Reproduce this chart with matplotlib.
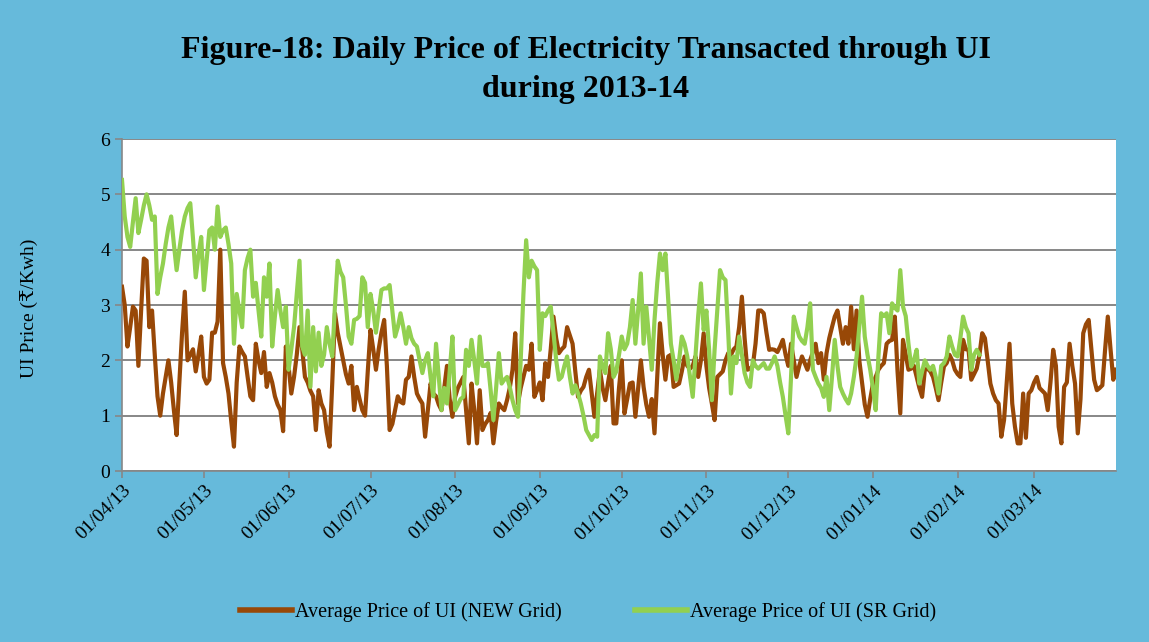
import numpy as np
import pandas as pd
import matplotlib
matplotlib.use("Agg")
import matplotlib.pyplot as plt
import matplotlib.dates as mdates

# Daily data (Rs/kWh), 01/04/2013 onwards
new_grid = [
    3.33, 3.0, 2.25, 2.6, 2.97, 2.9, 1.9, 2.9, 3.84, 3.8,
    2.6, 2.9, 2.1, 1.35, 1.0, 1.4, 1.7, 2.0, 1.6, 1.1,
    0.65, 1.6, 2.5, 3.24, 2.0, 2.1, 2.2, 1.8, 2.1, 2.43,
    1.7, 1.58, 1.65, 2.5, 2.5, 2.7, 4.0, 1.95, 1.7, 1.4,
    0.9, 0.44, 1.6, 2.25, 2.15, 2.07, 1.7, 1.35, 1.28, 2.3,
    2.0, 1.77, 2.15, 1.52, 1.77, 1.6, 1.35, 1.2, 1.1, 0.72,
    2.25, 1.9, 1.4, 1.7, 2.1, 2.6, 2.2, 1.7, 1.6, 1.45,
    1.35, 0.74, 1.46, 1.22, 1.1, 0.7, 0.44, 1.6, 2.85, 2.5,
    2.25, 2.0, 1.75, 1.58, 1.9, 1.1, 1.52, 1.3, 1.1, 1.0,
    1.8, 2.55, 2.2, 1.83, 2.2, 2.5, 2.73, 1.9, 0.74, 0.85,
    1.1, 1.35, 1.25, 1.22, 1.65, 1.7, 2.07, 1.7, 1.4, 1.3,
    1.22, 0.62, 1.1, 1.58, 1.4, 1.35, 1.2, 1.1, 1.5, 1.9,
    1.3, 0.98, 1.34, 1.5, 1.6, 1.7, 1.1, 0.5, 1.58, 1.1,
    0.5, 1.46, 0.74, 0.85, 0.92, 1.05, 0.5, 0.9, 1.22, 1.15,
    1.1, 1.28, 1.5, 1.83, 2.49, 1.22, 1.5, 1.7, 1.9, 1.83,
    2.3, 1.34, 1.46, 1.6, 1.28, 1.95, 1.7, 2.2, 2.79, 2.4,
    2.13, 2.2, 2.25, 2.6, 2.45, 2.3, 1.8, 1.34, 1.45, 1.52,
    1.7, 1.83, 1.4, 0.98, 1.4, 1.83, 1.5, 1.28, 1.6, 1.9,
    0.86, 0.86, 1.5, 2.0, 1.04, 1.3, 1.58, 1.6, 0.98, 1.5,
    2.0, 1.52, 1.2, 0.98, 1.3, 0.68, 1.7, 2.67, 2.1, 1.65,
    2.07, 2.1, 1.52, 1.55, 1.58, 1.8, 2.07, 1.9, 1.85, 1.9,
    2.07, 1.7, 2.0, 2.49, 1.9, 1.5, 1.22, 0.92, 1.7, 1.75,
    1.8, 2.0, 2.13, 2.1, 2.2, 2.25, 2.6, 3.15, 2.4, 1.83,
    1.85, 1.9, 2.3, 2.9, 2.9, 2.85, 2.5, 2.19, 2.2, 2.19,
    2.15, 2.25, 2.37, 2.1, 1.9, 2.3, 2.0, 1.7, 1.9, 2.07,
    1.95, 1.83, 2.0, 2.15, 2.3, 1.95, 2.13, 1.65, 2.13, 2.4,
    2.6, 2.79, 2.9, 2.6, 2.3, 2.6, 2.3, 2.97, 2.2, 2.9,
    2.0, 1.6, 1.2, 0.98, 1.3, 1.58, 1.7, 1.83, 1.9, 1.95,
    2.3, 2.35, 2.37, 2.79, 1.8, 1.04, 2.37, 2.1, 1.83, 1.85,
    1.9, 1.7, 1.5, 1.34, 1.83, 1.85, 1.8, 1.7, 1.5, 1.28,
    1.6, 1.89, 1.95, 2.1, 2.0, 1.83, 1.75, 1.7, 2.37, 2.2,
    2.19, 1.65, 1.75, 1.85, 2.1, 2.49, 2.4, 2.0, 1.58, 1.4,
    1.28, 1.22, 0.62, 0.92, 1.6, 2.3, 1.22, 0.8, 0.5, 0.5,
    1.4, 0.6, 1.4, 1.46, 1.6, 1.7, 1.5, 1.45, 1.4, 1.1,
    1.6, 2.19, 1.9, 0.8, 0.5, 1.52, 1.6, 2.3, 1.9, 1.58,
    0.68, 1.3, 2.49, 2.65, 2.73, 2.2, 1.65, 1.46, 1.5, 1.55,
    2.19, 2.79, 2.2, 1.65, 1.83,
]

sr_grid = [
    5.26, 4.6, 4.23, 4.05, 4.5, 4.93, 4.3, 4.54, 4.8, 5.0,
    4.8, 4.54, 4.6, 3.2, 3.5, 3.75, 4.1, 4.4, 4.6, 4.1,
    3.63, 4.0, 4.35, 4.6, 4.75, 4.84, 4.2, 3.5, 3.9, 4.23,
    3.27, 3.8, 4.35, 4.4, 4.0, 4.78, 4.23, 4.35, 4.4, 4.1,
    3.75, 2.3, 3.2, 2.9, 2.6, 3.63, 3.85, 4.0, 3.15, 3.4,
    2.9, 2.43, 3.5, 3.15, 3.75, 2.25, 2.8, 3.27, 2.9, 2.6,
    2.97, 1.83, 2.2, 2.6, 3.2, 3.8, 2.25, 2.1, 2.9, 1.52,
    2.6, 1.8, 2.5, 1.9, 2.1, 2.6, 2.3, 2.07, 3.0, 3.8,
    3.6, 3.5, 3.0, 2.43, 2.3, 2.73, 2.75, 2.8, 3.5, 3.4,
    2.6, 3.2, 2.9, 2.5, 2.9, 3.27, 3.3, 3.3, 3.36, 2.9,
    2.43, 2.6, 2.85, 2.6, 2.3, 2.6, 2.4, 2.3, 2.25, 2.0,
    1.77, 2.0, 2.13, 1.7, 1.35, 2.3, 1.7, 1.1, 1.5, 1.22,
    1.8, 2.43, 1.1, 1.2, 1.3, 1.34, 2.19, 1.9, 2.37, 2.0,
    1.58, 2.43, 1.9, 1.9, 1.95, 1.46, 0.92, 1.5, 2.13, 1.58,
    1.65, 1.7, 1.52, 1.28, 1.1, 0.98, 2.0, 3.2, 4.17, 3.5,
    3.8, 3.7, 3.63, 2.19, 2.85, 2.8, 2.9, 2.97, 2.5, 2.0,
    1.65, 1.7, 1.9, 2.07, 1.7, 1.4, 1.55, 1.4, 1.22, 1.0,
    0.74, 0.65, 0.56, 0.65, 0.62, 2.07, 1.9, 1.77, 2.49, 2.2,
    1.7, 1.8, 2.1, 2.43, 2.2, 2.3, 2.6, 3.09, 2.3, 2.9,
    3.57, 2.3, 2.97, 2.4, 1.83, 2.73, 3.4, 3.93, 3.63, 3.93,
    3.1, 2.3, 2.0, 1.65, 2.0, 2.43, 2.3, 2.07, 1.7, 1.34,
    2.07, 2.8, 3.39, 2.55, 2.9, 2.19, 1.28, 2.19, 2.9, 3.63,
    3.5, 3.45, 2.5, 1.4, 2.07, 1.95, 2.43, 2.1, 1.77, 1.6,
    1.52, 2.0, 1.9, 1.85, 1.9, 1.95, 1.85, 1.85, 1.95, 2.07,
    1.9, 1.6, 1.34, 1.0, 0.68, 1.7, 2.79, 2.6, 2.43, 2.35,
    2.3, 2.6, 3.03, 1.83, 1.7, 1.58, 1.5, 1.34, 1.7, 1.1,
    1.7, 2.37, 1.9, 1.52, 1.4, 1.3, 1.22, 1.4, 1.7, 2.07,
    2.6, 3.15, 2.43, 2.1, 1.83, 1.5, 1.1, 2.07, 2.85, 2.8,
    2.85, 2.49, 3.03, 2.95, 2.9, 3.63, 2.97, 2.8, 2.3, 1.89,
    2.0, 2.19, 1.58, 1.8, 2.0, 1.9, 1.83, 1.9, 1.7, 1.4,
    1.9, 1.95, 2.07, 2.43, 2.25, 2.1, 2.07, 2.4, 2.79, 2.6,
    2.49, 1.83, 2.1, 2.19, 2.1,
]

start_date = "2013-04-01"
tick_labels = ["01/04/13", "01/05/13", "01/06/13", "01/07/13", "01/08/13",
               "01/09/13", "01/10/13", "01/11/13", "01/12/13", "01/01/14",
               "01/02/14", "01/03/14"]
series_names = ["Average Price of UI (NEW Grid)", "Average Price of UI (SR Grid)"]

dates_new = pd.date_range(start_date, periods=len(new_grid), freq="D")
dates_sr = pd.date_range(start_date, periods=len(sr_grid), freq="D")
tick_dates = pd.to_datetime(tick_labels, format="%d/%m/%y")

BG = "#66BADB"
SERIF = ["Liberation Serif", "DejaVu Serif", "DejaVu Sans"]

fig = plt.figure(figsize=(11.49, 6.42), dpi=100, facecolor=BG)
ax = fig.add_axes([122/1149, 1-471/642, (1116-122)/1149, (471-139)/642])
ax.set_facecolor("white")

ax.plot(dates_new, new_grid, color="#984807", lw=3.0, solid_joinstyle="round",
        label=series_names[0], zorder=3)
ax.plot(dates_sr, sr_grid, color="#92D050", lw=3.0, solid_joinstyle="round",
        label=series_names[1], zorder=3)

ax.set_xlim(pd.Timestamp("2013-04-01"), pd.Timestamp("2014-03-31"))
ax.set_ylim(0, 6)
ax.set_yticks(range(0, 7))
ax.set_xticks(tick_dates)
ax.set_xticklabels(tick_labels, rotation=45, ha="right", rotation_mode="anchor",
                   fontfamily=SERIF, fontsize=14)
for lbl in ax.get_yticklabels():
    lbl.set_fontfamily(SERIF)
    lbl.set_fontsize(14)
ax.grid(axis="y", color="#878787", lw=1.4, zorder=1)
ax.set_axisbelow(True)
for s in ["top", "right"]:
    ax.spines[s].set_visible(False)
for s in ["left", "bottom"]:
    ax.spines[s].set_color("#878787")
    ax.spines[s].set_linewidth(1.2)
ax.tick_params(axis="both", colors="#878787", labelcolor="black", length=5, width=1.2)
ax.tick_params(axis="x", pad=3)

fig.text(30/1149, 1-308/642, "UI Price (₹/Kwh)", rotation=90, ha="center", va="center",
         fontfamily=SERIF, fontsize=14)

fig.text(586/1149, 1-70/642,
         "Figure-18: Daily Price of Electricity Transacted through UI\nduring 2013-14",
         ha="center", va="center", fontfamily=SERIF, fontsize=23, fontweight="bold",
         linespacing=1.45)

fig.legend(loc="center", bbox_to_anchor=(588/1149, 1-612/642), ncol=2, frameon=False,
           prop={"family": SERIF, "size": 14.5}, handlelength=2.6, columnspacing=3.6,
           handletextpad=0.15)
for line in fig.legends[0].get_lines():
    line.set_linewidth(4)

fig.savefig("out.png", dpi=100, facecolor=BG)
